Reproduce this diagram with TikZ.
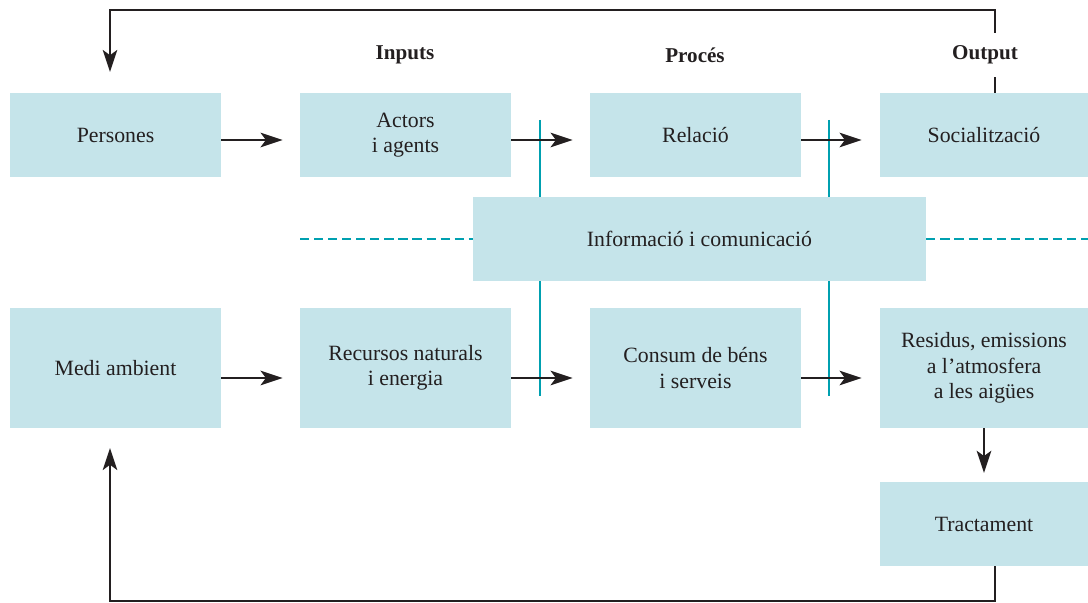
\documentclass[tikz,border=0pt]{standalone}
\usepackage{fontspec}
\setmainfont{Liberation Serif}
\usetikzlibrary{arrows.meta}
\definecolor{boxblue}{RGB}{197,228,234}
\definecolor{linkteal}{RGB}{0,160,176}
\definecolor{inkgray}{RGB}{35,31,32}
\begin{document}
\begin{tikzpicture}[x=0.025cm,y=-0.025cm,>={Stealth[length=0.55cm,width=0.36cm,inset=0.13cm]}]
        \tikzstyle{stage}=[rectangle,fill=boxblue,text=inkgray,minimum width=5.275cm,minimum height=2.1cm,align=center,font=\fontsize{15.5}{18}\selectfont,inner sep=2pt]
        \tikzstyle{tallstage}=[stage,minimum height=3cm]
        \tikzstyle{heading}=[font=\bfseries\fontsize{15}{18}\selectfont,text=inkgray,fill=white,inner sep=3pt,minimum height=1.1cm]
        \tikzstyle{flow}=[draw=inkgray,line width=2pt,->]
        \tikzstyle{feedback}=[draw=inkgray,line width=1.5pt,->]
        \tikzstyle{barrier}=[draw=linkteal,line width=1.4pt]
        \tikzstyle{channel}=[barrier,dash pattern=on 6.5pt off 3.5pt]
        \useasboundingbox (0,0) rectangle (1088,603);
        % teal barriers behind the boxes
        \coordinate (bar1top) at (540,120);
        \coordinate (bar1bot) at (540,396);
        \coordinate (bar2top) at (829,120);
        \coordinate (bar2bot) at (829,396);
        \path[barrier] (bar1top) -- (bar1bot);
        \path[barrier] (bar2top) -- (bar2bot);
       \begin{scope}
         \node [stage] (pers) at (115.5,135) {Persones};
         \node [stage] (actors) at (405.5,135) {Actors\\i agents};
         \node [stage] (rel) at (695.5,135) {Relació};
         \node [stage,minimum width=5.2cm] (soc) at (984,135) {Socialització};
         \node [stage,minimum width=11.325cm] (info) at (699.5,239) {Informació i comunicació};
         \node [tallstage] (medi) at (115.5,368) {Medi ambient};
         \node [tallstage] (recursos) at (405.5,368) {Recursos naturals\\i energia};
         \node [tallstage] (consum) at (695.5,368) {Consum de béns\\i serveis};
         \node [tallstage,minimum width=5.2cm] (residus) at (984,368) {Residus, emissions\\a l’atmosfera\\a les aigües};
         \node [stage,minimum width=5.2cm] (tract) at (984,524) {Tractament};
       \end{scope}
        \coordinate (chanL) at (300,239);
        \coordinate (chanR) at (1090,239);
        \path[channel] (chanL) -- (info.west);
        \path[channel] (info.east) -- (chanR);
        % main flows
        \path[flow,shorten >=0.425cm] ([yshift=-0.125cm]pers.east) -- ([yshift=-0.125cm]actors.west);
        \path[flow,shorten >=0.425cm] ([yshift=-0.125cm]actors.east) -- ([yshift=-0.125cm]rel.west);
        \path[flow,shorten >=0.45cm] ([yshift=-0.125cm]rel.east) -- ([yshift=-0.125cm]soc.west);
        \path[flow,shorten >=0.425cm] ([yshift=-0.25cm]medi.east) -- ([yshift=-0.25cm]recursos.west);
        \path[flow,shorten >=0.425cm] ([yshift=-0.25cm]recursos.east) -- ([yshift=-0.25cm]consum.west);
        \path[flow,shorten >=0.45cm] ([yshift=-0.25cm]consum.east) -- ([yshift=-0.25cm]residus.west);
        \path[flow,shorten >=0.22cm] (residus.south) -- (tract.north);
        % return loops
        \coordinate (persIn) at (110,72);
        \coordinate (mediIn) at (110,448);
        \path[feedback] ([xshift=0.275cm]soc.north) |- (persIn |- 0,10) -- (persIn);
        \path[feedback] ([xshift=0.275cm]tract.south) |- (mediIn |- 0,601) -- (mediIn);
        % column headings
        \node [heading] (inputs) at (405,55) {Inputs};
        \node [heading] (proces) at (695,55) {Procés};
        \node [heading] (output) at (985,55) {Output};
      \end{tikzpicture}
\end{document}
